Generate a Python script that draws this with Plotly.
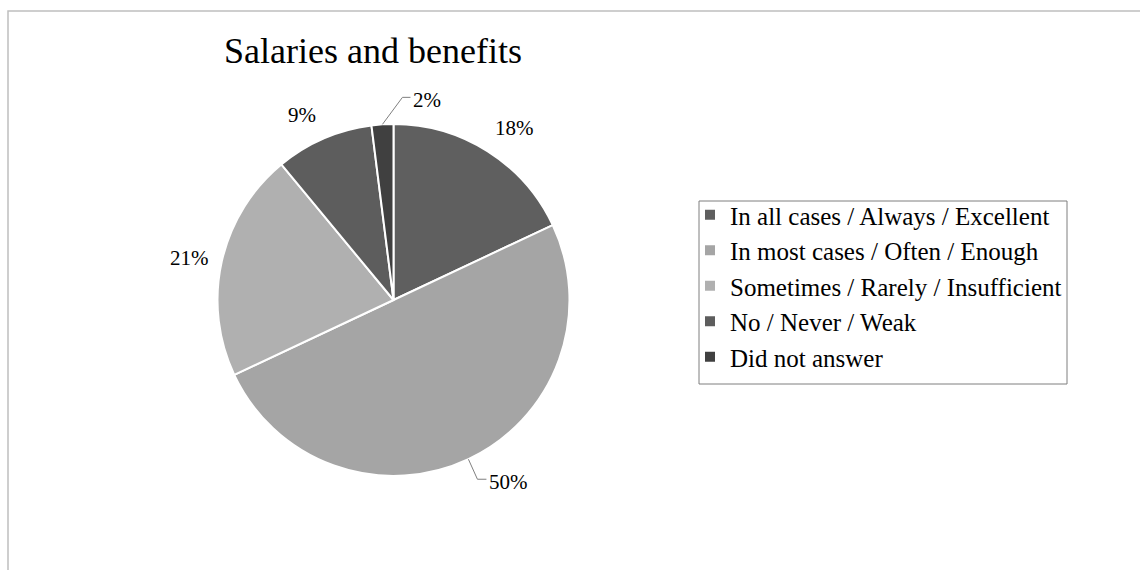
import math
import plotly.graph_objects as go

# ---- data ----
categories = [
    "In all cases / Always / Excellent",
    "In most cases / Often / Enough",
    "Sometimes / Rarely / Insufficient",
    "No / Never / Weak",
    "Did not answer",
]
values = [18, 50, 21, 9, 2]
colors = ["#5f5f5f", "#a5a5a5", "#b0b0b0", "#5d5d5d", "#404040"]
title_text = "Salaries and benefits"

W, H = 1140, 570
FONT = "Liberation Serif, Times New Roman, serif"

# pie geometry (pixels)
cx, cy, R = 393.5, 300.0, 176.0

def px(x):
    return x / W

def py(y):
    return 1 - y / H

fig = go.Figure()
fig.add_trace(go.Pie(
    labels=categories, values=values, sort=False, direction="clockwise",
    rotation=0, marker=dict(colors=colors, line=dict(color="white", width=2)),
    textinfo="none", hoverinfo="label+percent", showlegend=False,
    domain=dict(x=[px(cx - R), px(cx + R)], y=[py(cy + R), py(cy - R)]),
))

# legend entries via dummy traces
for cat, col in zip(categories, colors):
    fig.add_trace(go.Scatter(
        x=[None], y=[None], mode="markers", name=cat, legendgroup=cat,
        marker=dict(symbol="square", size=10, color=col),
        showlegend=True,
    ))

annotations = []
shapes = []
total = sum(values)
cum = 0.0
# leader-line style for small/crowded labels: (elbow dx, dy, horizontal len)
leaders = {1: (9, 20, 9), 4: (20, -27, 8)}
# small pixel nudges of outside labels (style only)
nudges = {0: (8, 5), 2: (1, 4), 3: (-8, 8)}
LBL = 21
for i, v in enumerate(values):
    a0 = cum / total * 360
    cum += v
    a1 = cum / total * 360
    mid = math.radians((a0 + a1) / 2)
    label = f"{round(v / total * 100)}%"
    if i in leaders:
        ex, ey = cx + R * math.sin(mid), cy - R * math.cos(mid)
        dx, dy, hl = leaders[i]
        bx, by = ex + dx, ey + dy
        shapes.append(dict(type="path", xref="paper", yref="paper",
                           path=f"M {px(ex)},{py(ey)} L {px(bx)},{py(by)} L {px(bx + hl)},{py(by)}",
                           line=dict(color="#7f7f7f", width=1)))
        annotations.append(dict(x=px(bx + hl + 1), y=py(by + 2.5), xref="paper", yref="paper",
                                text=label, showarrow=False, xanchor="left", yanchor="middle",
                                font=dict(family=FONT, size=LBL, color="black")))
    else:
        rr = R + 34
        nx, ny = nudges.get(i, (0, 0))
        tx, ty = cx + rr * math.sin(mid) + nx, cy - rr * math.cos(mid) + ny
        annotations.append(dict(x=px(tx), y=py(ty), xref="paper", yref="paper",
                                text=label, showarrow=False, xanchor="center", yanchor="middle",
                                font=dict(family=FONT, size=LBL, color="black")))

annotations.append(dict(x=px(373), y=py(51), xref="paper", yref="paper", text=title_text,
                        showarrow=False, xanchor="center", yanchor="middle",
                        font=dict(family=FONT, size=36, color="black")))

# outer chart border
shapes.append(dict(type="rect", xref="paper", yref="paper", x0=px(8), y0=-0.05, x1=1.05, y1=py(11),
                   line=dict(color="#bfbfbf", width=1.5)))
# legend border
shapes.append(dict(type="rect", xref="paper", yref="paper", x0=px(699), y0=py(384), x1=px(1067), y1=py(201),
                   line=dict(color="#7f7f7f", width=1)))

fig.update_layout(
    width=W, height=H, margin=dict(l=0, r=0, t=0, b=0),
    paper_bgcolor="white", plot_bgcolor="white",
    xaxis=dict(visible=False), yaxis=dict(visible=False),
    annotations=annotations, shapes=shapes,
    legend=dict(x=px(690), y=py(192), xanchor="left", yanchor="top",
                traceorder="grouped", tracegroupgap=0,
                font=dict(family=FONT, size=25, color="black"),
                bgcolor="rgba(0,0,0,0)", borderwidth=0),
    showlegend=True,
)

fig.write_html("out.html")
